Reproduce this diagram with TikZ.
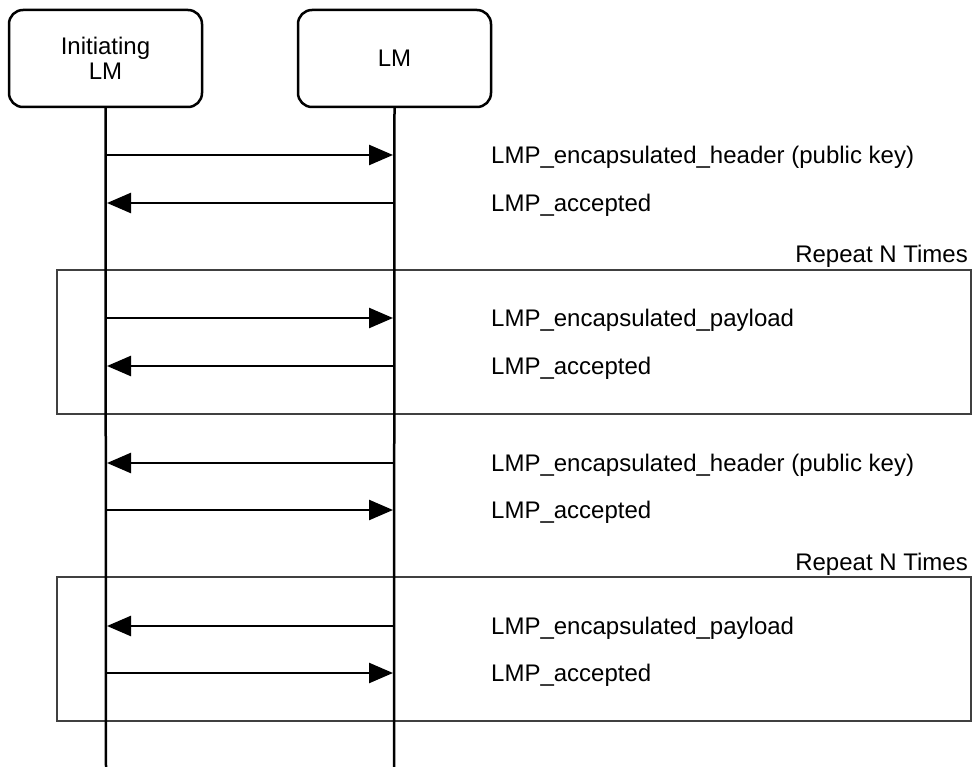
\documentclass[tikz,border=0pt]{standalone}
\usepackage{fontspec}
\setmainfont{Liberation Sans}
\usetikzlibrary{arrows.meta,positioning}
\begin{document}
\begin{tikzpicture}[x=1pt,y=-1pt,
  every node/.style={font=\fontsize{24}{25.5}\selectfont},
  entity/.style={draw,line width=2.5pt,rounded corners=14pt,minimum width=193pt,minimum height=97pt,inner sep=0pt,align=center},
  lifeline/.style={line width=2.5pt},
  msg/.style={line width=2.5pt,-{Triangle[length=24pt,width=20pt]}},
  msglabel/.style={anchor=base west,inner sep=0pt},
  loopbox/.style={line width=1.5pt,draw=black!75},
  looplabel/.style={anchor=base east,inner sep=0pt}]
\useasboundingbox (0,0) rectangle (972,767);

% participants
\node[entity] (init) at (105.5,58.5) {Initiating\\LM};
\node[entity] (lm) at (394.5,58.5) {LM};
\coordinate (initend) at (106,767);
\coordinate (lmend) at (394,767);

% repeat frames
\draw[loopbox] (57,270) rectangle (971,414);
\node[looplabel] (rep1) at (968,263) {Repeat N Times};
\draw[loopbox] (57,577) rectangle (971,721);
\node[looplabel] (rep2) at (968,570) {Repeat N Times};

% lifelines
\draw[lifeline] (init.south) -- (initend);
\draw[lifeline] (lm.south) -- (lmend);

% message anchor points on the lifelines
\foreach \i/\y in {1/155,2/203,3/318,4/366,5/463,6/510,7/626,8/673}{
  \coordinate (a\i) at (106,\y);
  \coordinate (b\i) at (393,\y);
  \coordinate (ta\i) at (107,\y);
}

% messages
\draw[msg] (a1) -- (b1);
\draw[msg] (b2) -- (ta2);
\draw[msg] (a3) -- (b3);
\draw[msg] (b4) -- (ta4);
\draw[msg] (b5) -- (ta5);
\draw[msg] (a6) -- (b6);
\draw[msg] (b7) -- (ta7);
\draw[msg] (a8) -- (b8);

% message labels
\node[msglabel] (m1) at (491,163.5) {LMP\_encapsulated\_header (public key)};
\node[msglabel] (m2) at (491,211.5) {LMP\_accepted};
\node[msglabel] (m3) at (491,326.5) {LMP\_encapsulated\_payload};
\node[msglabel] (m4) at (491,374.5) {LMP\_accepted};
\node[msglabel] (m5) at (491,471.5) {LMP\_encapsulated\_header (public key)};
\node[msglabel] (m6) at (491,518.5) {LMP\_accepted};
\node[msglabel] (m7) at (491,634.5) {LMP\_encapsulated\_payload};
\node[msglabel] (m8) at (491,681.5) {LMP\_accepted};
\end{tikzpicture}
\end{document}
